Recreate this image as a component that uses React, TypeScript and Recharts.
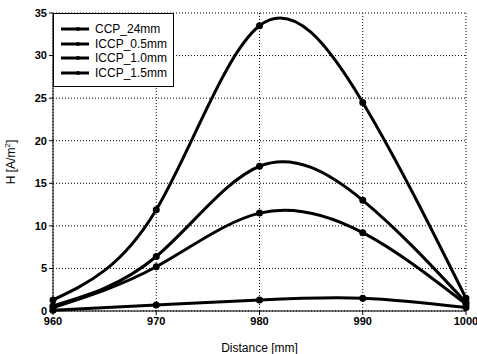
import React from 'react';
import { LineChart, Line, XAxis, YAxis, CartesianGrid } from 'recharts';

const distances = [960, 970, 980, 990, 1000];
const ccp24 = [1.3, 11.9, 33.5, 24.5, 1.5];
const iccp05 = [0.6, 6.4, 17.0, 13.0, 1.0];
const iccp10 = [0.4, 5.2, 11.5, 9.2, 0.8];
const iccp15 = [0.1, 0.7, 1.3, 1.5, 0.4];
const seriesNames = ['CCP_24mm', 'ICCP_0.5mm', 'ICCP_1.0mm', 'ICCP_1.5mm'];
const xTicks = [960, 970, 980, 990, 1000];
const yTicks = [0, 5, 10, 15, 20, 25, 30, 35];

const data = distances.map((d, i) => ({
  x: d,
  ccp24: ccp24[i],
  iccp05: iccp05[i],
  iccp10: iccp10[i],
  iccp15: iccp15[i],
}));

const keys = ['ccp24', 'iccp05', 'iccp10', 'iccp15'];
const font = '"Liberation Sans", Arial, sans-serif';

// legend drawn as a plain box over the top-left corner of the plot
const LegendBox = () => (
  <div
    style={{
      position: 'absolute',
      left: 53,
      top: 13,
      width: 121,
      height: 74,
      boxSizing: 'border-box',
      border: '1px solid #000',
      background: '#fff',
      paddingTop: 8,
      fontFamily: font,
      fontSize: 12,
      color: '#000',
    }}
  >
    {seriesNames.map((name) => (
      <div key={name} style={{ display: 'flex', alignItems: 'center', height: 14.5 }}>
        <svg width={34} height={10} style={{ marginLeft: 7 }}>
          <line x1={0} y1={5} x2={28} y2={5} stroke="#000" strokeWidth={3} />
          <circle cx={17} cy={5} r={2} fill="#000" />
        </svg>
        <span>{name}</span>
      </div>
    ))}
  </div>
);

const YLabel = () => (
  <text
    x={15}
    y={162}
    transform="rotate(-90 15 162)"
    textAnchor="middle"
    fontFamily={font}
    fontSize={12}
    fill="#000"
  >
    H [A/m<tspan dy={-5} fontSize={8}>2</tspan>
    <tspan dy={5}>]</tspan>
  </text>
);

const App = () => (
  <div style={{ position: 'absolute', left: 0, top: 0, width: 477, height: 354, background: '#fff' }}>
    <LineChart
      width={477}
      height={354}
      data={data}
      margin={{ top: 13, right: 11, left: 0, bottom: 0 }}
    >
      <CartesianGrid stroke="#000" strokeDasharray="1 2" />
      <XAxis
        dataKey="x"
        type="number"
        domain={[960, 1000]}
        ticks={xTicks}
        height={43}
        stroke="#000"
        tickSize={4}
        tick={{ fill: '#000', fontSize: 11, fontWeight: 'bold', fontFamily: font }}
        label={{
          value: 'Distance [mm]',
          position: 'insideBottom',
          offset: 2,
          fill: '#000',
          fontSize: 12,
          fontFamily: font,
        }}
      />
      <XAxis
        xAxisId="top"
        dataKey="x"
        type="number"
        domain={[960, 1000]}
        orientation="top"
        height={0}
        tick={false}
        tickLine={false}
        stroke="#000"
      />
      <YAxis
        type="number"
        domain={[0, 35]}
        ticks={yTicks}
        width={53}
        stroke="#000"
        tickSize={4}
        tick={{ fill: '#000', fontSize: 11, fontWeight: 'bold', fontFamily: font }}
        label={<YLabel />}
      />
      <YAxis
        yAxisId="right"
        orientation="right"
        domain={[0, 35]}
        width={0}
        tick={false}
        tickLine={false}
        stroke="#000"
      />
      {keys.map((k) => (
        <Line
          key={k}
          dataKey={k}
          type="natural"
          stroke="#000"
          strokeWidth={3}
          dot={{ r: 2, fill: '#000', stroke: '#000' }}
          isAnimationActive={false}
        />
      ))}
    </LineChart>
    <LegendBox />
  </div>
);

export default App;
